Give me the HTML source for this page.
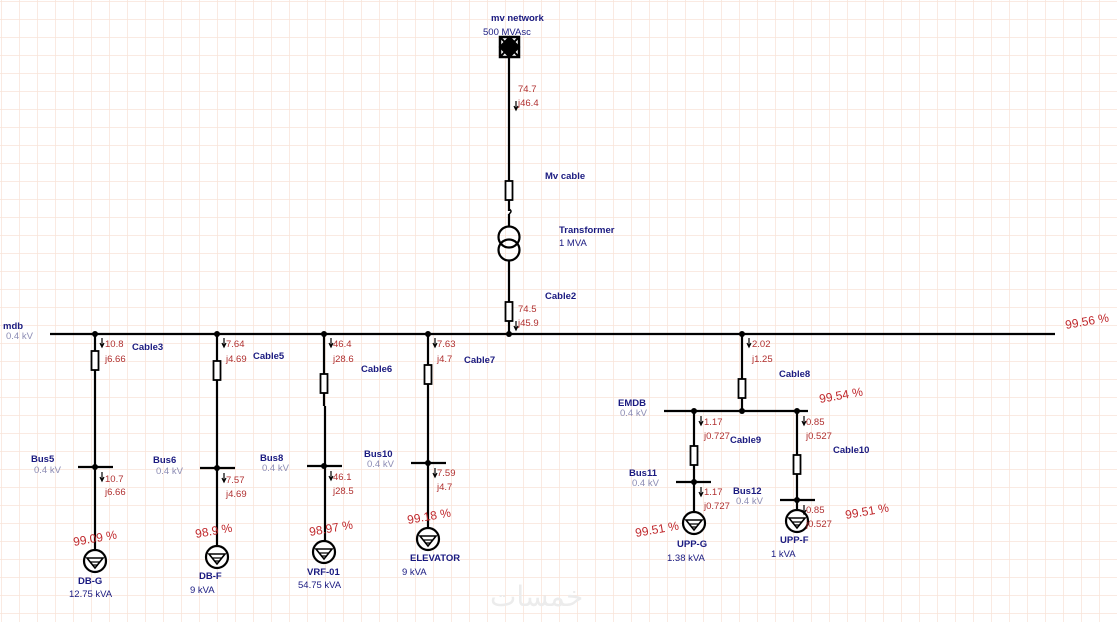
<!DOCTYPE html>
<html><head><meta charset="utf-8"><style>
html,body{margin:0;padding:0;background:#fff}
svg{display:block}
text{font-family:"Liberation Sans",sans-serif}
.n{fill:#1a1a80;font-weight:bold;font-size:9.5px}
.kv{fill:#8c8cb4;font-size:9.5px}
.v{fill:#b03030;font-size:9.5px}
.p{fill:#c0282c;font-size:12px}
.s{fill:#1a1a80;font-size:9.5px}
</style></head><body>
<svg width="1117" height="622" viewBox="0 0 1117 622" xmlns="http://www.w3.org/2000/svg">
<defs>
<pattern id="g" width="18" height="18" patternUnits="userSpaceOnUse" x="1" y="1">
<path d="M0 0H18M0 0V18" stroke="#f8e4d8" stroke-width="1.5" fill="none"/>
</pattern>
<g id="load"><circle cx="0" cy="0" r="11" fill="#fff" stroke="#000" stroke-width="2.2"/><path d="M-8 -3H8L0 7Z" fill="none" stroke="#000" stroke-width="1.6"/><path d="M-5 1H5M-3 4H3" stroke="#000" stroke-width="1.3"/></g>
<g id="cab"><rect x="-3.5" y="0" width="7" height="19" fill="#fff" stroke="#000" stroke-width="1.8"/></g>
<g id="arr"><path d="M0 0V8M-2 5L0 9L2 5" stroke="#000" stroke-width="1.2" fill="none"/></g>
</defs>
<rect width="1117" height="622" fill="url(#g)"/>
<g stroke="#000" stroke-width="2.2" fill="none">
<path d="M50 334H1055"/>
<path d="M509 57V211M509 214V226M509 260V334"/>
<path d="M95 334V561M217 334V557M324 334V406M325 406V552M428 334V539M742 334V411"/>
<path d="M664 411H808M694 411V523M797 411V521"/>
<path d="M78 467H113M200 468H235M307 466H342M411 463H446M676 482H711M780 500H815"/>
</g>
<path d="M509 209q4 2 0 5" stroke="#000" stroke-width="1.5" fill="none"/>
<rect x="500" y="37" width="19" height="20" fill="#fff" stroke="#000" stroke-width="2.5"/>
<path d="M500 37L519 57M519 37L500 57M509.5 37L519 47L509.5 57L500 47Z" stroke="#000" stroke-width="2"/>
<circle cx="509" cy="237" r="10.5" fill="none" stroke="#000" stroke-width="2.2"/>
<circle cx="509" cy="250" r="10.5" fill="none" stroke="#000" stroke-width="2.2"/>
<use href="#cab" x="509" y="181"/><use href="#cab" x="509" y="302"/>
<use href="#cab" x="95" y="351"/><use href="#cab" x="217" y="361"/><use href="#cab" x="324" y="374"/><use href="#cab" x="428" y="365"/>
<use href="#cab" x="742" y="379"/><use href="#cab" x="694" y="446"/><use href="#cab" x="797" y="455"/>
<g fill="#000">
<circle cx="95" cy="334" r="3"/><circle cx="217" cy="334" r="3"/><circle cx="324" cy="334" r="3"/><circle cx="428" cy="334" r="3"/><circle cx="509" cy="334" r="3"/><circle cx="742" cy="334" r="3"/>
<circle cx="95" cy="467" r="3"/><circle cx="217" cy="468" r="3"/><circle cx="324" cy="466" r="3"/><circle cx="428" cy="463" r="3"/>
<circle cx="742" cy="411" r="3"/><circle cx="694" cy="411" r="3"/><circle cx="797" cy="411" r="3"/><circle cx="694" cy="482" r="3"/><circle cx="797" cy="500" r="3"/>
</g>
<use href="#load" x="95" y="561"/><use href="#load" x="217" y="557"/><use href="#load" x="324" y="552"/><use href="#load" x="428" y="539"/><use href="#load" x="694" y="523"/><use href="#load" x="797" y="521"/>
<use href="#arr" x="516" y="101"/><use href="#arr" x="516" y="321"/>
<use href="#arr" x="102" y="338"/><use href="#arr" x="224" y="338"/><use href="#arr" x="331" y="338"/><use href="#arr" x="435" y="338"/><use href="#arr" x="749" y="338"/>
<use href="#arr" x="102" y="472"/><use href="#arr" x="224" y="473"/><use href="#arr" x="331" y="471"/><use href="#arr" x="435" y="468"/>
<use href="#arr" x="701" y="416"/><use href="#arr" x="804" y="416"/><use href="#arr" x="701" y="487"/><use href="#arr" x="804" y="505"/>
<text class="n" x="491" y="21">mv network</text><text class="s" x="483" y="35">500 MVAsc</text>
<text class="v" x="518" y="92">74.7</text><text class="v" x="518" y="106">j46.4</text>
<text class="n" x="545" y="179">Mv cable</text>
<text class="n" x="559" y="233">Transformer</text><text class="s" x="559" y="246">1 MVA</text>
<text class="n" x="545" y="299">Cable2</text>
<text class="v" x="518" y="312">74.5</text><text class="v" x="518" y="326">j45.9</text>
<text class="n" x="3" y="329">mdb</text><text class="kv" x="6" y="339">0.4 kV</text>
<text class="v" x="105" y="347">10.8</text><text class="v" x="105" y="362">j6.66</text><text class="n" x="132" y="350">Cable3</text>
<text class="v" x="226" y="347">7.64</text><text class="v" x="226" y="362">j4.69</text><text class="n" x="253" y="359">Cable5</text>
<text class="v" x="333" y="347">46.4</text><text class="v" x="333" y="362">j28.6</text><text class="n" x="361" y="372">Cable6</text>
<text class="v" x="437" y="347">7.63</text><text class="v" x="437" y="362">j4.7</text><text class="n" x="464" y="363">Cable7</text>
<text class="v" x="752" y="347">2.02</text><text class="v" x="752" y="362">j1.25</text><text class="n" x="779" y="377">Cable8</text>
<text class="n" x="31" y="462">Bus5</text><text class="kv" x="34" y="473">0.4 kV</text>
<text class="n" x="153" y="463">Bus6</text><text class="kv" x="156" y="474">0.4 kV</text>
<text class="n" x="260" y="461">Bus8</text><text class="kv" x="262" y="471">0.4 kV</text>
<text class="n" x="364" y="457">Bus10</text><text class="kv" x="367" y="467">0.4 kV</text>
<text class="v" x="105" y="482">10.7</text><text class="v" x="105" y="495">j6.66</text>
<text class="v" x="226" y="483">7.57</text><text class="v" x="226" y="497">j4.69</text>
<text class="v" x="333" y="480">46.1</text><text class="v" x="333" y="494">j28.5</text>
<text class="v" x="437" y="476">7.59</text><text class="v" x="437" y="490">j4.7</text>
<text class="p" transform="translate(74,546) rotate(-10)">99.09 %</text>
<text class="p" transform="translate(196,538) rotate(-10)">98.9 %</text>
<text class="p" transform="translate(310,536) rotate(-10)">98.97 %</text>
<text class="p" transform="translate(408,524) rotate(-10)">99.18 %</text>
<text class="p" transform="translate(1066,329) rotate(-10)">99.56 %</text>
<text class="p" transform="translate(820,403) rotate(-10)">99.54 %</text>
<text class="p" transform="translate(636,537) rotate(-10)">99.51 %</text>
<text class="p" transform="translate(846,519) rotate(-10)">99.51 %</text>
<text class="n" x="78" y="584">DB-G</text><text class="s" x="69" y="597">12.75 kVA</text>
<text class="n" x="199" y="579">DB-F</text><text class="s" x="190" y="593">9 kVA</text>
<text class="n" x="307" y="575">VRF-01</text><text class="s" x="298" y="588">54.75 kVA</text>
<text class="n" x="410" y="561">ELEVATOR</text><text class="s" x="402" y="575">9 kVA</text>
<text class="n" x="618" y="406">EMDB</text><text class="kv" x="620" y="416">0.4 kV</text>
<text class="v" x="704" y="425">1.17</text><text class="v" x="704" y="439">j0.727</text><text class="n" x="730" y="443">Cable9</text>
<text class="v" x="806" y="425">0.85</text><text class="v" x="806" y="439">j0.527</text><text class="n" x="833" y="453">Cable10</text>
<text class="n" x="629" y="476">Bus11</text><text class="kv" x="632" y="486">0.4 kV</text>
<text class="n" x="733" y="494">Bus12</text><text class="kv" x="736" y="504">0.4 kV</text>
<text class="v" x="704" y="495">1.17</text><text class="v" x="704" y="509">j0.727</text>
<text class="v" x="806" y="513">0.85</text><text class="v" x="806" y="527">j0.527</text>
<text class="n" x="677" y="547">UPP-G</text><text class="s" x="667" y="561">1.38 kVA</text>
<text class="n" x="780" y="543">UPP-F</text><text class="s" x="771" y="557">1 kVA</text>
<text x="490" y="606" style="font-family:'DejaVu Sans',sans-serif;font-size:28px;fill:#ececec">خمسات</text>
</svg>
</body></html>
